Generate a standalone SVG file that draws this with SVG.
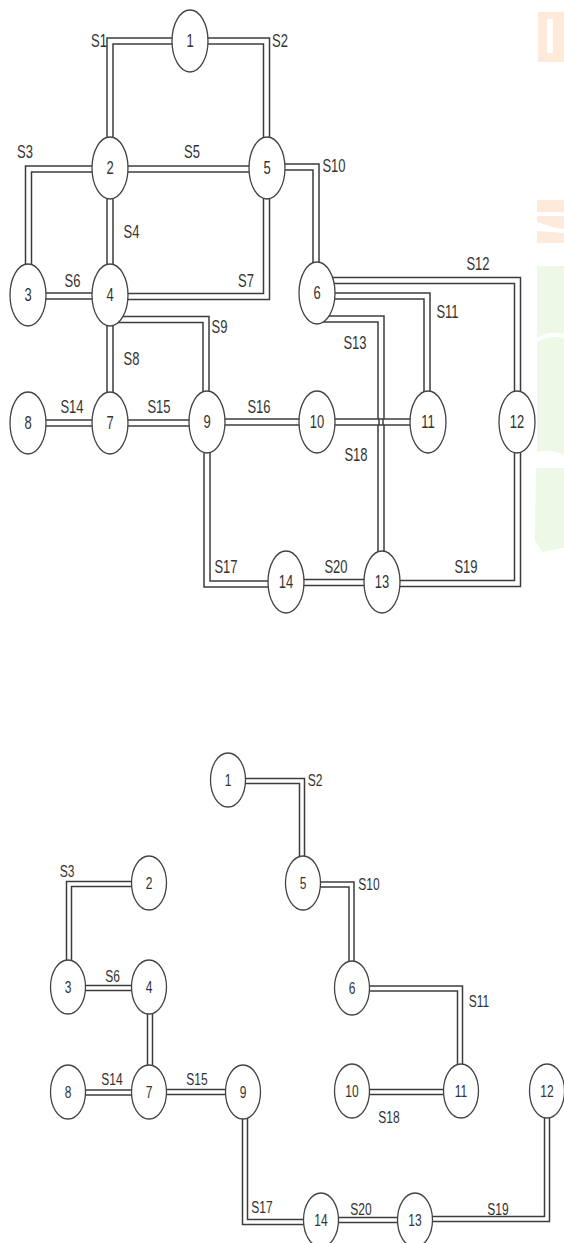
<svg xmlns="http://www.w3.org/2000/svg" xmlns:xlink="http://www.w3.org/1999/xlink" width="564" height="1243" viewBox="0 0 564 1243">
<style>
.bg{fill:#ffffff}
.wo{fill:#fdeadb}
.wg{fill:#eef8e6}
.ww{fill:#ffffff}
use.o{fill:none;stroke:#3c3c3c;stroke-width:7.5;stroke-linejoin:miter}
use.i{fill:none;stroke:#ffffff;stroke-width:4.5;stroke-linejoin:miter}
use.o2{fill:none;stroke:#3c3c3c;stroke-width:6.5;stroke-linejoin:miter}
use.i2{fill:none;stroke:#ffffff;stroke-width:3.5;stroke-linejoin:miter}
.n ellipse{fill:#ffffff;stroke:#444444;stroke-width:1.3}
text{font-family:"Liberation Sans",Arial,sans-serif;fill:#333333;text-anchor:middle}
.t1{font-size:13px}
.t2{font-size:12px}
</style>
<defs>
<path id="s1" d="M190,41 H110 V168"/>
<path id="s2" d="M190,41 H266.5 V168"/>
<path id="s3" d="M110,169 H28.5 V295"/>
<path id="s4" d="M110,168 V295"/>
<path id="s5" d="M110,169 H267"/>
<path id="s6" d="M28,296 H110"/>
<path id="s7" d="M110,296.5 H266.5 V168"/>
<path id="s8" d="M110,295 V423"/>
<path id="s9" d="M110,319.5 H206 V422"/>
<path id="s10" d="M267,167 H316 V293"/>
<path id="s11" d="M317,296 H427 V422"/>
<path id="s12" d="M317,280.5 H517.5 V422"/>
<path id="s13" d="M317,319 H381 V582"/>
<path id="s14" d="M28,423 H110"/>
<path id="s15" d="M110,423 H207"/>
<path id="s16" d="M207,422 H317"/>
<path id="s18" d="M317,422 H428"/>
<path id="s17" d="M207,422 V584 H286"/>
<path id="s20" d="M286,582.5 H382"/>
<path id="s19" d="M382,583.5 H517.5 V422"/>
<path id="b2" d="M228,781 H302 V883"/>
<path id="b10" d="M303,884.5 H351.5 V988"/>
<path id="b3" d="M149,884 H69 V987"/>
<path id="b6" d="M68,988 H149"/>
<path id="b8" d="M150,987 V1092"/>
<path id="b14" d="M68,1092.5 H149"/>
<path id="b15" d="M149,1092 H243"/>
<path id="b11" d="M352,988.5 H460 V1091"/>
<path id="b18" d="M352,1092 H461"/>
<path id="b17" d="M245,1092 V1222 H321"/>
<path id="b20" d="M321,1220 H415"/>
<path id="b19" d="M415,1219 H547 V1091"/>
</defs>
<rect class="bg" x="0" y="0" width="564" height="1243"/>
<g id="watermark">
<rect class="wo" x="538" y="12" width="26" height="50"/>
<rect class="ww" x="547" y="19" width="6" height="34"/>
<rect class="wo" x="537" y="200" width="27" height="43"/>
<rect class="ww" x="537" y="212" width="27" height="4"/>
<path class="ww" d="M537,222 L556,228 L564,229 L564,233 L537,231 Z"/>
<path class="wg" d="M537,266 H564 V455 Q548,448 537,452 Z"/>
<path class="ww" d="M537,338 Q550,330 564,334 V338 Q550,335 537,342 Z"/>
<path class="wg" d="M536,468 H564 V548 L542,552 L535,540 Z"/>
</g>
<g id="connectors">
<use xlink:href="#s1" class="o"/><use xlink:href="#s1" class="i"/>
<use xlink:href="#s2" class="o"/><use xlink:href="#s2" class="i"/>
<use xlink:href="#s3" class="o"/><use xlink:href="#s3" class="i"/>
<use xlink:href="#s4" class="o"/><use xlink:href="#s4" class="i"/>
<use xlink:href="#s5" class="o"/><use xlink:href="#s5" class="i"/>
<use xlink:href="#s6" class="o"/><use xlink:href="#s6" class="i"/>
<use xlink:href="#s7" class="o"/><use xlink:href="#s7" class="i"/>
<use xlink:href="#s8" class="o"/><use xlink:href="#s8" class="i"/>
<use xlink:href="#s9" class="o"/><use xlink:href="#s9" class="i"/>
<use xlink:href="#s10" class="o"/><use xlink:href="#s10" class="i"/>
<use xlink:href="#s11" class="o"/><use xlink:href="#s11" class="i"/>
<use xlink:href="#s12" class="o"/><use xlink:href="#s12" class="i"/>
<use xlink:href="#s13" class="o"/><use xlink:href="#s13" class="i"/>
<use xlink:href="#s14" class="o"/><use xlink:href="#s14" class="i"/>
<use xlink:href="#s15" class="o"/><use xlink:href="#s15" class="i"/>
<use xlink:href="#s16" class="o"/><use xlink:href="#s16" class="i"/>
<use xlink:href="#s18" class="o"/><use xlink:href="#s18" class="i"/>
<use xlink:href="#s17" class="o"/><use xlink:href="#s17" class="i"/>
<use xlink:href="#s20" class="o"/><use xlink:href="#s20" class="i"/>
<use xlink:href="#s19" class="o"/><use xlink:href="#s19" class="i"/>
<line x1="379" y1="419" x2="379" y2="425" stroke="#3c3c3c" stroke-width="1.5"/>
<line x1="383" y1="419" x2="383" y2="425" stroke="#3c3c3c" stroke-width="1.5"/>
<use xlink:href="#b2" class="o2"/><use xlink:href="#b2" class="i2"/>
<use xlink:href="#b10" class="o2"/><use xlink:href="#b10" class="i2"/>
<use xlink:href="#b3" class="o2"/><use xlink:href="#b3" class="i2"/>
<use xlink:href="#b6" class="o2"/><use xlink:href="#b6" class="i2"/>
<use xlink:href="#b8" class="o2"/><use xlink:href="#b8" class="i2"/>
<use xlink:href="#b14" class="o2"/><use xlink:href="#b14" class="i2"/>
<use xlink:href="#b15" class="o2"/><use xlink:href="#b15" class="i2"/>
<use xlink:href="#b11" class="o2"/><use xlink:href="#b11" class="i2"/>
<use xlink:href="#b18" class="o2"/><use xlink:href="#b18" class="i2"/>
<use xlink:href="#b17" class="o2"/><use xlink:href="#b17" class="i2"/>
<use xlink:href="#b20" class="o2"/><use xlink:href="#b20" class="i2"/>
<use xlink:href="#b19" class="o2"/><use xlink:href="#b19" class="i2"/>
</g>
<g id="connector-labels">
<text class="t1" transform="translate(99,47) scale(1,1.35)">S1</text>
<text class="t1" transform="translate(280,47) scale(1,1.35)">S2</text>
<text class="t1" transform="translate(25,158) scale(1,1.35)">S3</text>
<text class="t1" transform="translate(192,158) scale(1,1.35)">S5</text>
<text class="t1" transform="translate(334,172) scale(1,1.35)">S10</text>
<text class="t1" transform="translate(131.5,238) scale(1,1.35)">S4</text>
<text class="t1" transform="translate(72.5,287) scale(1,1.35)">S6</text>
<text class="t1" transform="translate(246,287) scale(1,1.35)">S7</text>
<text class="t1" transform="translate(219.5,333) scale(1,1.35)">S9</text>
<text class="t1" transform="translate(131.5,365) scale(1,1.35)">S8</text>
<text class="t1" transform="translate(72,413) scale(1,1.35)">S14</text>
<text class="t1" transform="translate(159,413) scale(1,1.35)">S15</text>
<text class="t1" transform="translate(259,413) scale(1,1.35)">S16</text>
<text class="t1" transform="translate(478,270) scale(1,1.35)">S12</text>
<text class="t1" transform="translate(447.5,318) scale(1,1.35)">S11</text>
<text class="t1" transform="translate(355,349) scale(1,1.35)">S13</text>
<text class="t1" transform="translate(356,461) scale(1,1.35)">S18</text>
<text class="t1" transform="translate(226,573) scale(1,1.35)">S17</text>
<text class="t1" transform="translate(336,573) scale(1,1.35)">S20</text>
<text class="t1" transform="translate(466,573) scale(1,1.35)">S19</text>
<text class="t2" transform="translate(315,786) scale(1,1.3)">S2</text>
<text class="t2" transform="translate(369,890) scale(1,1.3)">S10</text>
<text class="t2" transform="translate(67,877) scale(1,1.3)">S3</text>
<text class="t2" transform="translate(112.5,982) scale(1,1.3)">S6</text>
<text class="t2" transform="translate(479,1007) scale(1,1.3)">S11</text>
<text class="t2" transform="translate(389,1123) scale(1,1.3)">S18</text>
<text class="t2" transform="translate(112,1085) scale(1,1.3)">S14</text>
<text class="t2" transform="translate(197,1085) scale(1,1.3)">S15</text>
<text class="t2" transform="translate(262,1213) scale(1,1.3)">S17</text>
<text class="t2" transform="translate(361,1215) scale(1,1.3)">S20</text>
<text class="t2" transform="translate(498,1215) scale(1,1.3)">S19</text>
</g>
<g id="top-nodes" class="n">
<g id="t1"><ellipse cx="190" cy="41" rx="18" ry="31"/><text class="t1" transform="translate(190,47) scale(1,1.35)">1</text></g>
<g id="t2"><ellipse cx="110" cy="168" rx="18" ry="31"/><text class="t1" transform="translate(110,174) scale(1,1.35)">2</text></g>
<g id="t3"><ellipse cx="28" cy="295" rx="18" ry="31"/><text class="t1" transform="translate(28,301) scale(1,1.35)">3</text></g>
<g id="t4"><ellipse cx="110" cy="295" rx="18" ry="31"/><text class="t1" transform="translate(110,301) scale(1,1.35)">4</text></g>
<g id="t5"><ellipse cx="267" cy="168" rx="18" ry="31"/><text class="t1" transform="translate(267,174) scale(1,1.35)">5</text></g>
<g id="t6"><ellipse cx="317" cy="293" rx="18" ry="31"/><text class="t1" transform="translate(317,299) scale(1,1.35)">6</text></g>
<g id="t7"><ellipse cx="110" cy="423" rx="18" ry="31"/><text class="t1" transform="translate(110,429) scale(1,1.35)">7</text></g>
<g id="t8"><ellipse cx="28" cy="423" rx="18" ry="31"/><text class="t1" transform="translate(28,429) scale(1,1.35)">8</text></g>
<g id="t9"><ellipse cx="207" cy="422" rx="18" ry="31"/><text class="t1" transform="translate(207,428) scale(1,1.35)">9</text></g>
<g id="t10"><ellipse cx="317" cy="422" rx="18" ry="31"/><text class="t1" transform="translate(317,428) scale(1,1.35)">10</text></g>
<g id="t11"><ellipse cx="428" cy="422" rx="18" ry="31"/><text class="t1" transform="translate(428,428) scale(1,1.35)">11</text></g>
<g id="t12"><ellipse cx="517" cy="422" rx="18" ry="31"/><text class="t1" transform="translate(517,428) scale(1,1.35)">12</text></g>
<g id="t13"><ellipse cx="382" cy="582" rx="18" ry="31"/><text class="t1" transform="translate(382,588) scale(1,1.35)">13</text></g>
<g id="t14"><ellipse cx="286" cy="582" rx="18" ry="31"/><text class="t1" transform="translate(286,588) scale(1,1.35)">14</text></g>
</g>
<g id="bottom-nodes" class="n">
<g id="b1n"><ellipse cx="228" cy="780" rx="17.5" ry="27"/><text class="t2" transform="translate(228,785.5) scale(1,1.3)">1</text></g>
<g id="b2n"><ellipse cx="149" cy="883" rx="17.5" ry="27"/><text class="t2" transform="translate(149,888.5) scale(1,1.3)">2</text></g>
<g id="b3n"><ellipse cx="68" cy="987" rx="17.5" ry="27"/><text class="t2" transform="translate(68,992.5) scale(1,1.3)">3</text></g>
<g id="b4n"><ellipse cx="149" cy="987" rx="17.5" ry="27"/><text class="t2" transform="translate(149,992.5) scale(1,1.3)">4</text></g>
<g id="b5n"><ellipse cx="303" cy="883" rx="17.5" ry="27"/><text class="t2" transform="translate(303,888.5) scale(1,1.3)">5</text></g>
<g id="b6n"><ellipse cx="352" cy="988" rx="17.5" ry="27"/><text class="t2" transform="translate(352,993.5) scale(1,1.3)">6</text></g>
<g id="b7n"><ellipse cx="149" cy="1092" rx="17.5" ry="27"/><text class="t2" transform="translate(149,1097.5) scale(1,1.3)">7</text></g>
<g id="b8n"><ellipse cx="68" cy="1092" rx="17.5" ry="27"/><text class="t2" transform="translate(68,1097.5) scale(1,1.3)">8</text></g>
<g id="b9n"><ellipse cx="243" cy="1092" rx="17.5" ry="27"/><text class="t2" transform="translate(243,1097.5) scale(1,1.3)">9</text></g>
<g id="b10n"><ellipse cx="352" cy="1091" rx="17.5" ry="27"/><text class="t2" transform="translate(352,1096.5) scale(1,1.3)">10</text></g>
<g id="b11n"><ellipse cx="461" cy="1091" rx="17.5" ry="27"/><text class="t2" transform="translate(461,1096.5) scale(1,1.3)">11</text></g>
<g id="b12n"><ellipse cx="547" cy="1091" rx="17.5" ry="27"/><text class="t2" transform="translate(547,1096.5) scale(1,1.3)">12</text></g>
<g id="b13n"><ellipse cx="415" cy="1220" rx="17.5" ry="27"/><text class="t2" transform="translate(415,1225.5) scale(1,1.3)">13</text></g>
<g id="b14n"><ellipse cx="321" cy="1220" rx="17.5" ry="27"/><text class="t2" transform="translate(321,1225.5) scale(1,1.3)">14</text></g>
</g>
</svg>
